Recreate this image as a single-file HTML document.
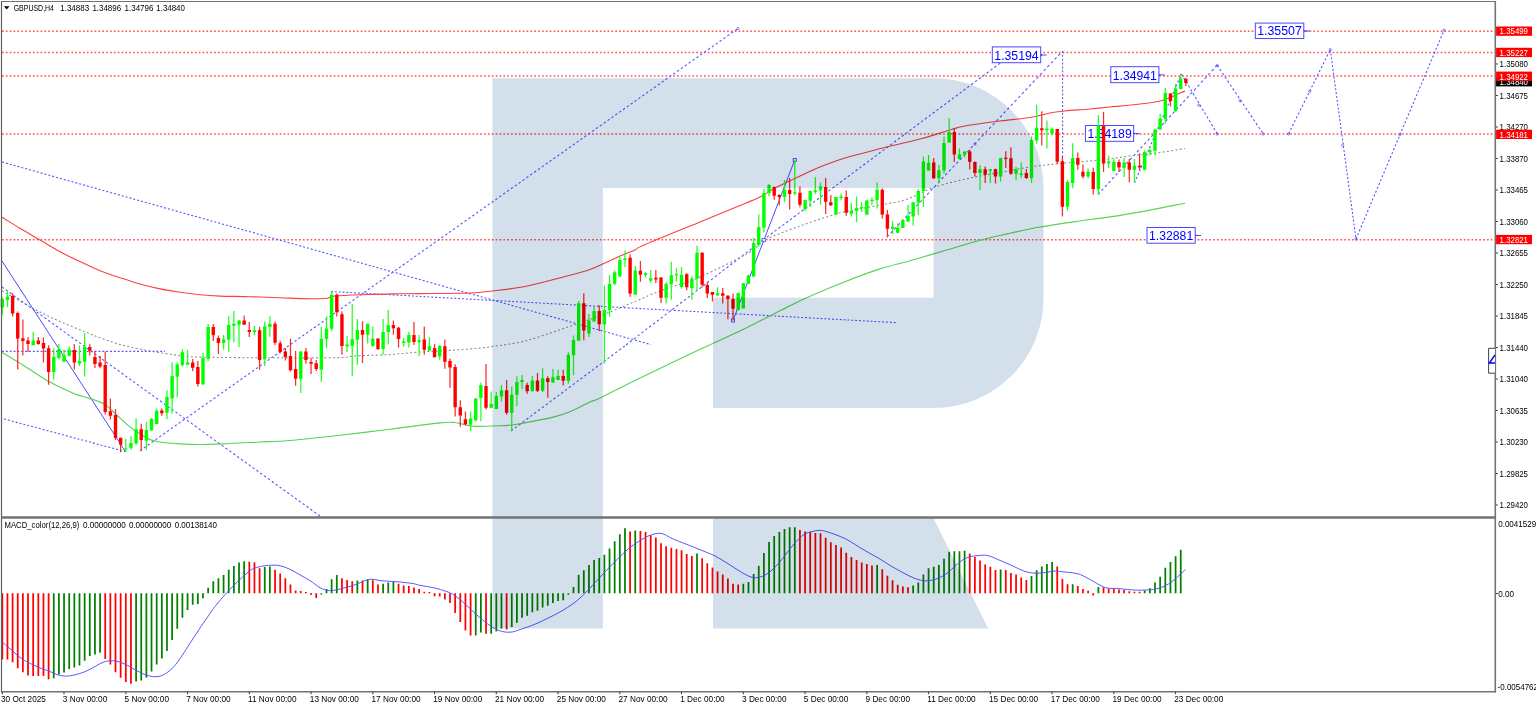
<!DOCTYPE html>
<html><head><meta charset="utf-8"><title>GBPUSD,H4</title>
<style>
html,body{margin:0;padding:0;background:#fff;overflow:hidden}
body{width:1536px;height:707px;position:relative;font-family:"Liberation Sans","DejaVu Sans",sans-serif}
svg{position:absolute;left:0;top:0;display:block}
.ax{font-size:8.7px;fill:#000}
.tag{font-size:8.7px;fill:#fff}
.lb{font-size:13.2px;fill:#0000ff}
.wm{mix-blend-mode:multiply}
</style></head><body>
<svg width="1536" height="707" viewBox="0 0 1536 707" font-family="Liberation Sans, DejaVu Sans, sans-serif">
<rect x="0" y="0" width="1536" height="707" fill="#ffffff"/>
<g stroke="#ff5252" stroke-width="1.55" stroke-dasharray="1.7 2.157">
<line x1="2.0" y1="31.2" x2="1495.0" y2="31.2" />
<line x1="2.0" y1="52.4" x2="1495.0" y2="52.4" />
<line x1="2.0" y1="76.0" x2="1495.0" y2="76.0" />
<line x1="2.0" y1="133.9" x2="1495.0" y2="133.9" />
<line x1="2.0" y1="239.8" x2="1495.0" y2="239.8" />
</g>
<g stroke="#5454ff" stroke-width="1.08" fill="none">
<line x1="2.0" y1="162.0" x2="651.0" y2="344.6" stroke-dasharray="2.03 1.98"/>
<line x1="2.0" y1="287.0" x2="320.0" y2="516.0" stroke-dasharray="2.40 2.35"/>
<line x1="4.0" y1="419.0" x2="125.0" y2="451.5" stroke-dasharray="2.02 1.98"/>
<line x1="140.0" y1="450.7" x2="738.0" y2="28.5" stroke-dasharray="2.39 2.34"/>
<line x1="331.0" y1="291.5" x2="897.0" y2="322.7" stroke-dasharray="1.95 1.91"/>
<line x1="511.0" y1="431.0" x2="626.0" y2="345.0" stroke-dasharray="2.43 2.39"/>
<line x1="626.0" y1="345.0" x2="763.0" y2="240.0" stroke-dasharray="2.46 2.41"/>
<line x1="763.0" y1="240.0" x2="1003.0" y2="61.0" stroke-dasharray="2.43 2.38"/>
<line x1="887.0" y1="237.0" x2="1062.6" y2="51.0" stroke-dasharray="2.68 2.63"/>
<line x1="1062.6" y1="51.0" x2="1062.6" y2="215.0" stroke-dasharray="1.95 1.91"/>
<line x1="1097.9" y1="194.6" x2="1217.2" y2="65.2" stroke-dasharray="2.65 2.60"/>
<line x1="1134.5" y1="182.7" x2="1181.4" y2="74.0" stroke-dasharray="2.12 2.08"/>
<line x1="1217.2" y1="65.2" x2="1263.1" y2="133.7" stroke-dasharray="2.35 2.30"/>
<line x1="1181.4" y1="74.0" x2="1217.2" y2="133.7" stroke-dasharray="2.27 2.23"/>
<line x1="1288.6" y1="133.7" x2="1330.3" y2="49.6" stroke-dasharray="2.18 2.13"/>
<line x1="1330.3" y1="49.6" x2="1356.0" y2="239.0" stroke-dasharray="1.97 1.93"/>
<line x1="1356.0" y1="239.0" x2="1444.1" y2="30.1" stroke-dasharray="2.12 2.07"/>
</g>
<line x1="2.0" y1="351.4" x2="165.0" y2="351.4" stroke="#5454ff" stroke-width="1.35" stroke-dasharray="1.9 1.96"/>
<g stroke="#5454ff" stroke-width="0.7" fill="none">
<circle cx="1198.8" cy="105.2" r="1.15"/><circle cx="1240.0" cy="100.8" r="1.15"/><circle cx="1309.8" cy="91.3" r="1.15"/><circle cx="1342.6" cy="145.4" r="1.15"/><circle cx="1400.0" cy="134.4" r="1.15"/><circle cx="1217.2" cy="134.0" r="1.15"/><circle cx="1263.1" cy="134.0" r="1.15"/><circle cx="1288.6" cy="134.0" r="1.15"/><circle cx="1217.2" cy="65.5" r="1.15"/><circle cx="1330.3" cy="49.6" r="1.15"/><circle cx="1356.0" cy="239.0" r="1.15"/><circle cx="1444.1" cy="30.1" r="1.15"/><circle cx="738.0" cy="28.5" r="1.15"/><circle cx="975.0" cy="144.0" r="1.15"/>
</g>
<g stroke="#4040ff" stroke-width="0.95" fill="none">
<line x1="2.0" y1="261.0" x2="125.7" y2="452.0" />
<line x1="733.0" y1="320.4" x2="794.7" y2="160.0" />
<rect x="731.4" y="318.8" width="3.2" height="3.2" fill="#fff" stroke-width="0.8"/><rect x="762.1" y="238.6" width="3.2" height="3.2" fill="#fff" stroke-width="0.8"/><rect x="793.1" y="158.4" width="3.2" height="3.2" fill="#fff" stroke-width="0.8"/>
</g>
<rect x="992.3" y="46.9" width="48.4" height="15.8" fill="#fff" stroke="#4040ff" stroke-width="0.95"/><text class="lb" x="1016.5" y="59.5" text-anchor="middle" textLength="44.4" lengthAdjust="spacingAndGlyphs">1.35194</text><path d="M1040.7 55.0h6" stroke="#4040ff" stroke-width="0.95"/><path d="M1040.7 53.8l2 1.2l-2 1.2z" fill="#4040ff"/>
<rect x="1110.8" y="66.7" width="48.1" height="16.0" fill="#fff" stroke="#4040ff" stroke-width="0.95"/><text class="lb" x="1134.8" y="79.5" text-anchor="middle" textLength="44.1" lengthAdjust="spacingAndGlyphs">1.34941</text><path d="M1158.9 74.9h6" stroke="#4040ff" stroke-width="0.95"/><path d="M1158.9 73.7l2 1.2l-2 1.2z" fill="#4040ff"/>
<rect x="1085.4" y="125.5" width="48.3" height="15.8" fill="#fff" stroke="#4040ff" stroke-width="0.95"/><text class="lb" x="1109.6" y="138.1" text-anchor="middle" textLength="44.3" lengthAdjust="spacingAndGlyphs">1.34189</text><path d="M1133.7 133.6h6" stroke="#4040ff" stroke-width="0.95"/><path d="M1133.7 132.4l2 1.2l-2 1.2z" fill="#4040ff"/>
<rect x="1255.3" y="23.1" width="48.5" height="15.4" fill="#fff" stroke="#4040ff" stroke-width="0.95"/><text class="lb" x="1279.5" y="35.3" text-anchor="middle" textLength="44.5" lengthAdjust="spacingAndGlyphs">1.35507</text><path d="M1303.8 31.0h6" stroke="#4040ff" stroke-width="0.95"/><path d="M1303.8 29.8l2 1.2l-2 1.2z" fill="#4040ff"/>
<rect x="1147.0" y="227.5" width="48.2" height="15.7" fill="#fff" stroke="#4040ff" stroke-width="0.95"/><text class="lb" x="1171.1" y="240.0" text-anchor="middle" textLength="44.2" lengthAdjust="spacingAndGlyphs">1.32881</text><path d="M1195.2 235.5h6" stroke="#4040ff" stroke-width="0.95"/><path d="M1195.2 234.3l2 1.2l-2 1.2z" fill="#4040ff"/>
<path d="M2.0 217.2C5.0 219.0 13.7 224.5 20.0 228.3C26.3 232.1 33.3 236.1 40.0 240.0C46.7 243.9 53.3 248.2 60.0 251.8C66.7 255.4 73.3 258.4 80.0 261.5C86.7 264.6 93.3 268.0 100.0 270.7C106.7 273.4 113.3 275.5 120.0 277.7C126.7 279.9 133.3 282.1 140.0 284.0C146.7 285.9 153.3 287.5 160.0 288.9C166.7 290.3 173.3 291.2 180.0 292.2C186.7 293.2 193.3 294.0 200.0 294.7C206.7 295.4 211.7 295.8 220.0 296.1C228.3 296.4 240.0 296.4 250.0 296.7C260.0 297.0 271.7 297.4 280.0 297.7C288.3 298.0 292.5 298.5 300.0 298.6C307.5 298.7 319.2 298.9 325.0 298.5C330.8 298.1 327.5 296.7 335.0 296.0C342.5 295.3 359.2 294.9 370.0 294.5C380.8 294.1 390.0 294.0 400.0 293.8C410.0 293.6 418.3 293.6 430.0 293.5C441.7 293.4 459.7 293.4 470.0 293.0C480.3 292.6 482.8 292.1 492.0 291.0C501.2 289.9 512.8 288.9 525.0 286.5C537.2 284.1 554.2 279.3 565.0 276.5C575.8 273.7 583.3 271.8 590.0 269.5C596.7 267.2 600.0 265.2 605.0 263.0C610.0 260.8 615.0 258.2 620.0 256.0C625.0 253.8 631.2 251.8 635.0 250.0C638.8 248.2 632.2 250.2 643.0 245.5C653.8 240.8 684.7 228.3 700.0 222.0C715.3 215.7 725.0 211.7 735.0 207.5C745.0 203.3 753.3 200.2 760.0 197.0C766.7 193.8 768.3 191.5 775.0 188.0C781.7 184.5 792.5 179.5 800.0 176.0C807.5 172.5 812.5 170.0 820.0 167.0C827.5 164.0 835.8 160.8 845.0 158.0C854.2 155.2 862.5 153.2 875.0 150.0C887.5 146.8 907.5 142.3 920.0 139.0C932.5 135.7 942.5 132.2 950.0 130.0C957.5 127.8 956.7 127.5 965.0 126.0C973.3 124.5 989.2 122.4 1000.0 121.0C1010.8 119.6 1021.7 118.8 1030.0 117.5C1038.3 116.2 1044.2 114.1 1050.0 113.0C1055.8 111.9 1058.3 111.7 1065.0 111.0C1071.7 110.3 1082.5 109.7 1090.0 109.0C1097.5 108.3 1101.7 107.8 1110.0 107.0C1118.3 106.2 1131.7 105.0 1140.0 104.0C1148.3 103.0 1155.0 102.1 1160.0 101.0C1165.0 99.9 1166.7 98.8 1170.0 97.5C1173.3 96.2 1177.5 94.1 1180.0 93.0C1182.5 91.9 1184.2 91.3 1185.0 91.0" fill="none" stroke="#ff4040" stroke-width="1.12"/>
<path d="M2.0 352.4C4.5 353.9 12.3 358.4 17.0 361.3C21.7 364.2 24.9 366.4 30.0 369.6C35.1 372.9 42.5 377.9 47.5 380.8C52.5 383.7 55.2 384.9 60.0 387.2C64.8 389.5 71.0 392.5 76.0 394.4C81.0 396.3 85.2 396.9 90.0 398.6C94.8 400.3 100.0 401.2 105.0 404.5C110.0 407.8 115.8 414.4 120.0 418.1C124.2 421.8 126.7 424.3 130.0 426.9C133.3 429.5 136.7 431.7 140.0 433.8C143.3 435.9 146.7 438.2 150.0 439.6C153.3 441.0 155.8 441.4 160.0 442.0C164.2 442.6 168.3 443.1 175.0 443.5C181.7 443.9 190.8 444.5 200.0 444.5C209.2 444.5 220.0 443.9 230.0 443.5C240.0 443.1 250.0 442.5 260.0 442.0C270.0 441.5 276.7 441.6 290.0 440.5C303.3 439.4 323.3 437.1 340.0 435.2C356.7 433.3 373.3 431.4 390.0 429.3C406.7 427.2 429.2 424.0 440.0 422.9C450.8 421.8 450.8 422.2 455.0 422.5C459.2 422.8 461.7 424.2 465.0 424.8C468.3 425.4 469.2 426.2 475.0 426.4C480.8 426.6 493.3 426.1 500.0 425.8C506.7 425.5 509.2 425.3 515.0 424.5C520.8 423.7 528.3 422.2 535.0 420.9C541.7 419.6 549.2 418.1 555.0 416.6C560.8 415.1 564.2 414.2 570.0 411.8C575.8 409.4 585.0 404.3 590.0 402.0C595.0 399.7 592.5 401.6 600.0 398.0C607.5 394.4 620.0 387.8 635.0 380.5C650.0 373.2 672.2 362.4 690.0 354.0C707.8 345.6 727.0 337.2 742.0 330.0C757.0 322.8 768.7 316.3 780.0 310.7C791.3 305.1 799.2 301.0 810.0 296.2C820.8 291.4 833.3 286.2 845.0 281.7C856.7 277.1 869.2 272.4 880.0 268.9C890.8 265.4 899.2 263.8 910.0 260.7C920.8 257.6 933.3 253.9 945.0 250.5C956.7 247.1 969.2 243.1 980.0 240.2C990.8 237.3 1000.0 235.5 1010.0 233.3C1020.0 231.1 1029.2 228.9 1040.0 227.0C1050.8 225.1 1063.3 223.3 1075.0 221.6C1086.7 219.9 1097.5 218.8 1110.0 216.9C1122.5 215.0 1137.5 212.4 1150.0 210.1C1162.5 207.8 1179.2 204.3 1185.0 203.2" fill="none" stroke="#58d458" stroke-width="1.15"/>
<path d="M2.0 290.8C7.5 293.9 25.3 304.3 35.0 309.4C44.7 314.5 51.7 317.8 60.0 321.5C68.3 325.2 77.5 328.8 85.0 331.8C92.5 334.8 97.5 337.0 105.0 339.5C112.5 342.0 118.3 344.4 130.0 347.0C141.7 349.6 161.7 353.3 175.0 355.0C188.3 356.7 184.2 356.8 210.0 357.3C235.8 357.8 305.8 358.0 330.0 357.8C354.2 357.6 345.0 356.6 355.0 356.0C365.0 355.4 379.2 355.2 390.0 354.5C400.8 353.8 411.7 352.6 420.0 352.0C428.3 351.4 431.7 351.5 440.0 351.0C448.3 350.5 461.3 349.8 470.0 349.0C478.7 348.2 482.8 347.8 492.0 346.5C501.2 345.2 512.8 344.1 525.0 341.0C537.2 337.9 550.8 332.8 565.0 328.0C579.2 323.2 594.2 318.2 610.0 312.0C625.8 305.8 645.0 296.8 660.0 291.0C675.0 285.2 685.0 283.5 700.0 277.0C715.0 270.5 739.2 258.2 750.0 252.0C760.8 245.8 756.7 244.3 765.0 240.0C773.3 235.7 787.5 230.5 800.0 226.0C812.5 221.5 826.7 216.5 840.0 213.0C853.3 209.5 869.2 207.2 880.0 205.0C890.8 202.8 895.8 203.0 905.0 200.0C914.2 197.0 923.3 190.8 935.0 187.0C946.7 183.2 964.2 179.4 975.0 177.0C985.8 174.6 990.8 174.2 1000.0 172.5C1009.2 170.8 1020.0 168.5 1030.0 167.0C1040.0 165.5 1048.3 164.7 1060.0 163.5C1071.7 162.3 1088.3 161.2 1100.0 160.0C1111.7 158.8 1120.0 157.2 1130.0 156.0C1140.0 154.8 1150.8 153.8 1160.0 152.5C1169.2 151.2 1180.8 149.2 1185.0 148.5" fill="none" stroke="#868686" stroke-width="1.05" stroke-dasharray="1.9 2.4"/>
<path d="M2.30 297.0V314.8M7.45 290.2V307.2M33.18 331.8V345.2M53.76 348.2V379.6M58.91 344.0V359.6M64.05 349.4V361.7M69.20 346.5V356.2M79.49 345.6V366.0M84.64 333.0V376.6M125.80 439.0V452.0M130.95 436.3V449.9M136.10 418.5V445.2M146.39 421.7V449.9M151.53 418.0V430.6M156.68 408.6V424.1M166.97 390.2V418.9M172.12 362.5V413.8M177.26 362.5V397.6M182.41 349.2V366.7M187.56 349.8V364.7M202.99 352.9V385.3M208.14 324.1V360.9M223.58 334.9V349.5M228.72 316.3V351.8M233.87 311.1V342.3M239.02 320.2V346.9M254.45 326.0V334.9M264.75 321.5V366.1M269.89 316.3V336.7M300.77 351.0V393.0M321.35 326.7V381.8M326.50 316.3V348.2M331.64 291.5V331.3M347.08 336.1V352.0M352.23 304.0V376.3M357.37 318.9V364.7M367.67 323.8V343.6M372.81 326.5V346.2M383.10 319.1V354.7M388.25 309.7V344.2M403.69 338.1V346.8M408.83 332.1V347.5M419.13 335.1V356.0M429.42 337.3V350.8M439.71 345.2V359.8M470.59 411.4V430.9M475.73 398.1V421.6M480.88 382.5V421.2M491.17 391.6V407.8M496.32 392.1V409.1M501.46 385.1V401.6M511.75 386.4V430.9M516.90 376.3V405.9M522.05 374.9V389.3M532.34 376.0V391.2M542.63 368.2V391.9M552.92 369.1V382.8M558.07 369.7V379.9M568.36 352.2V383.8M573.51 335.5V375.2M578.65 300.9V340.7M588.94 313.9V336.9M594.09 307.1V321.5M604.38 285.6V363.7M609.53 274.7V316.5M614.67 270.4V285.6M619.82 256.5V277.3M624.97 250.5V266.9M635.26 266.1V295.1M645.55 272.3V277.6M650.70 270.0V282.8M666.13 282.1V303.6M671.28 261.7V299.7M676.43 268.2V281.5M681.57 266.9V288.6M691.86 276.3V299.7M697.01 245.7V290.6M717.59 287.3V295.5M738.18 292.7V310.5M743.32 283.0V308.5M748.47 274.7V284.1M753.62 237.8V276.4M758.76 214.5V246.7M763.91 189.1V232.5M769.05 184.1V196.2M784.49 179.9V202.3M794.78 159.8V195.3M805.08 200.1V210.9M810.22 190.6V207.0M815.37 177.1V194.0M820.51 182.6V204.7M835.95 196.9V215.1M841.10 193.6V200.1M851.39 203.1V216.4M856.54 196.6V222.3M861.68 202.3V211.8M866.83 200.1V215.4M871.97 197.5V205.3M877.12 182.6V208.6M892.56 221.0V234.0M897.70 223.6V233.3M902.85 219.0V228.1M908.00 204.9V221.9M913.14 202.1V225.5M918.29 189.1V215.1M923.43 156.6V207.0M928.58 154.9V170.5M938.87 164.7V183.5M944.02 136.4V173.8M949.16 118.2V142.5M959.46 148.6V159.5M964.60 151.3V157.2M980.04 165.3V190.0M990.33 169.0V182.9M1000.62 157.8V181.6M1016.06 166.9V180.3M1021.21 162.4V178.3M1031.50 136.4V182.9M1036.65 104.8V143.8M1046.94 120.4V148.6M1052.08 127.6V135.6M1067.52 180.1V210.5M1072.67 143.3V188.3M1088.11 168.5V178.4M1098.40 115.0V195.1M1108.69 155.6V168.0M1113.84 158.7V171.1M1124.13 158.0V177.1M1134.42 158.9V182.1M1144.71 150.4V169.7M1149.86 148.3V155.4M1155.00 129.4V155.4M1160.15 113.8V129.4M1165.30 88.0V123.5M1175.59 83.8V111.8M1180.73 73.4V89.2" stroke="#22ff22" stroke-width="1.25" fill="none"/>
<path d="M12.59 293.2V316.5M17.74 311.4V369.4M22.88 319.5V355.4M28.03 336.9V352.0M38.32 337.0V344.8M43.47 337.5V362.6M48.61 345.2V384.7M74.34 344.0V369.4M89.78 344.3V355.4M94.93 350.7V368.0M100.07 355.7V368.3M105.22 351.5V414.4M110.37 398.6V419.6M115.51 409.1V440.0M120.66 437.7V452.3M141.24 423.8V451.0M161.83 408.4V415.7M192.70 358.9V371.0M197.85 360.9V386.6M213.29 324.1V341.0M218.43 335.4V354.0M244.16 315.6V324.7M249.31 322.1V337.1M259.60 326.7V369.7M275.04 321.5V344.9M280.18 341.0V353.4M285.33 347.9V360.5M290.48 338.8V371.6M295.62 351.0V385.7M305.91 347.9V363.8M311.06 357.9V374.0M316.21 359.9V371.0M336.79 293.5V316.6M341.94 311.2V354.7M362.52 321.3V363.1M377.96 338.4V350.0M393.40 320.4V334.7M398.54 326.9V347.5M413.98 322.1V344.9M424.27 326.4V354.7M434.56 343.9V357.3M444.86 339.4V368.8M450.00 358.6V387.7M455.15 364.3V416.4M460.29 400.3V426.8M465.44 411.4V425.5M486.02 363.9V409.5M506.61 379.9V414.7M527.19 382.8V393.8M537.48 373.0V392.1M547.78 376.3V397.7M563.21 369.7V385.6M583.80 293.2V340.3M599.24 305.2V331.3M630.11 254.4V296.8M640.40 260.9V281.7M655.84 270.0V283.0M660.99 276.9V302.9M686.72 273.0V290.3M702.16 252.2V287.3M707.30 282.8V298.1M712.45 291.9V301.6M722.74 288.0V303.6M727.89 295.1V319.2M733.03 293.8V320.5M774.20 186.5V199.7M779.35 194.3V205.3M789.64 178.0V209.6M799.93 186.5V207.3M825.66 178.0V214.1M830.81 194.9V206.0M846.24 190.4V215.8M882.27 188.4V218.4M887.41 209.9V237.2M933.73 158.0V179.0M954.31 128.6V162.1M969.75 149.7V169.5M974.89 161.4V176.4M985.19 166.6V182.9M995.48 168.6V183.5M1005.77 151.3V167.9M1010.92 147.3V174.7M1026.35 169.2V179.0M1041.79 111.3V145.5M1057.23 128.9V164.0M1062.38 156.8V216.6M1077.81 152.5V169.8M1082.96 164.6V178.4M1093.25 167.8V194.5M1103.54 111.8V171.9M1118.98 159.4V172.0M1129.27 158.9V182.3M1139.57 153.2V169.7M1170.44 93.1V106.4M1185.88 78.3V86.1" stroke="#ff2a2a" stroke-width="1.25" fill="none"/>
<path d="M0.60 299.1h3.4V307.6h-3.4zM5.75 296.5h3.4V300.0h-3.4zM31.48 340.5h3.4V345.2h-3.4zM52.06 357.0h3.4V372.0h-3.4zM57.21 349.0h3.4V358.0h-3.4zM62.35 355.0h3.4V361.7h-3.4zM67.50 349.4h3.4V355.8h-3.4zM77.79 361.0h3.4V363.4h-3.4zM82.94 346.9h3.4V361.7h-3.4zM124.10 448.4h3.4V449.6h-3.4zM129.25 443.1h3.4V447.8h-3.4zM134.40 429.3h3.4V443.3h-3.4zM144.69 430.0h3.4V440.8h-3.4zM149.83 419.1h3.4V430.6h-3.4zM154.98 410.7h3.4V424.1h-3.4zM165.27 397.1h3.4V412.8h-3.4zM170.42 376.1h3.4V398.4h-3.4zM175.56 364.4h3.4V376.7h-3.4zM180.71 352.2h3.4V364.9h-3.4zM185.86 362.5h3.4V364.7h-3.4zM201.29 358.0h3.4V384.2h-3.4zM206.44 327.0h3.4V358.7h-3.4zM221.88 339.3h3.4V343.0h-3.4zM227.02 325.1h3.4V339.7h-3.4zM232.17 323.8h3.4V325.7h-3.4zM237.32 320.6h3.4V324.7h-3.4zM252.75 330.2h3.4V331.9h-3.4zM263.05 326.4h3.4V359.2h-3.4zM268.19 323.8h3.4V327.0h-3.4zM299.07 351.4h3.4V378.8h-3.4zM319.65 338.7h3.4V369.7h-3.4zM324.80 328.4h3.4V339.1h-3.4zM329.94 294.8h3.4V328.7h-3.4zM345.38 344.4h3.4V346.3h-3.4zM350.53 339.2h3.4V345.8h-3.4zM355.67 330.0h3.4V339.7h-3.4zM365.97 323.8h3.4V334.8h-3.4zM371.11 338.7h3.4V346.2h-3.4zM381.40 332.1h3.4V349.0h-3.4zM386.55 325.1h3.4V332.1h-3.4zM401.99 341.6h3.4V342.9h-3.4zM407.13 334.9h3.4V342.6h-3.4zM417.43 340.3h3.4V341.9h-3.4zM427.72 346.2h3.4V350.8h-3.4zM438.01 345.9h3.4V356.6h-3.4zM468.89 418.6h3.4V424.7h-3.4zM474.03 398.4h3.4V420.3h-3.4zM479.18 385.1h3.4V398.1h-3.4zM489.47 403.9h3.4V407.8h-3.4zM494.62 396.0h3.4V409.1h-3.4zM499.76 390.3h3.4V396.4h-3.4zM510.05 394.7h3.4V412.7h-3.4zM515.20 382.1h3.4V394.7h-3.4zM520.35 379.9h3.4V382.1h-3.4zM530.64 380.4h3.4V391.2h-3.4zM540.93 378.2h3.4V390.8h-3.4zM551.22 377.3h3.4V382.5h-3.4zM556.37 376.0h3.4V379.9h-3.4zM566.66 354.8h3.4V380.8h-3.4zM571.81 340.0h3.4V355.2h-3.4zM576.95 303.3h3.4V340.7h-3.4zM587.24 320.6h3.4V333.5h-3.4zM592.39 311.0h3.4V321.5h-3.4zM602.68 310.0h3.4V324.6h-3.4zM607.83 284.1h3.4V310.0h-3.4zM612.97 272.3h3.4V283.8h-3.4zM618.12 260.0h3.4V276.3h-3.4zM623.27 258.4h3.4V260.0h-3.4zM633.56 270.4h3.4V294.5h-3.4zM643.85 273.3h3.4V274.9h-3.4zM649.00 278.2h3.4V280.8h-3.4zM664.43 284.1h3.4V297.7h-3.4zM669.58 275.2h3.4V284.3h-3.4zM674.73 274.3h3.4V275.6h-3.4zM679.87 274.7h3.4V286.9h-3.4zM690.16 278.6h3.4V288.0h-3.4zM695.31 252.8h3.4V278.6h-3.4zM715.89 293.2h3.4V295.5h-3.4zM736.48 293.1h3.4V310.0h-3.4zM741.62 283.3h3.4V308.5h-3.4zM746.77 275.5h3.4V284.1h-3.4zM751.92 243.0h3.4V276.4h-3.4zM757.06 227.0h3.4V245.1h-3.4zM762.21 193.0h3.4V227.4h-3.4zM767.35 184.9h3.4V193.0h-3.4zM782.79 190.1h3.4V197.1h-3.4zM793.08 192.3h3.4V193.6h-3.4zM803.38 200.1h3.4V209.2h-3.4zM808.52 191.0h3.4V200.8h-3.4zM813.67 190.4h3.4V191.9h-3.4zM818.81 186.5h3.4V190.6h-3.4zM834.25 197.1h3.4V214.5h-3.4zM839.40 196.6h3.4V197.9h-3.4zM849.69 210.9h3.4V213.8h-3.4zM854.84 207.9h3.4V210.9h-3.4zM859.98 207.0h3.4V208.3h-3.4zM865.13 200.5h3.4V214.5h-3.4zM870.27 199.7h3.4V201.0h-3.4zM875.42 189.7h3.4V200.1h-3.4zM890.86 226.6h3.4V228.8h-3.4zM896.00 227.9h3.4V232.7h-3.4zM901.15 220.3h3.4V227.9h-3.4zM906.30 216.1h3.4V221.4h-3.4zM911.44 202.3h3.4V216.4h-3.4zM916.59 191.0h3.4V202.7h-3.4zM921.73 161.4h3.4V191.0h-3.4zM926.88 162.7h3.4V170.5h-3.4zM937.17 170.3h3.4V178.3h-3.4zM942.32 142.9h3.4V170.5h-3.4zM947.46 132.1h3.4V142.5h-3.4zM957.76 154.2h3.4V159.1h-3.4zM962.90 151.6h3.4V154.6h-3.4zM978.34 169.2h3.4V172.9h-3.4zM988.63 169.2h3.4V170.8h-3.4zM998.92 158.2h3.4V176.4h-3.4zM1014.36 169.5h3.4V173.8h-3.4zM1019.51 173.4h3.4V175.1h-3.4zM1029.80 139.9h3.4V178.3h-3.4zM1034.95 127.8h3.4V140.6h-3.4zM1045.24 128.6h3.4V130.2h-3.4zM1050.38 129.1h3.4V133.8h-3.4zM1065.82 182.1h3.4V206.8h-3.4zM1070.97 158.0h3.4V183.0h-3.4zM1086.41 171.7h3.4V176.5h-3.4zM1096.70 126.0h3.4V188.9h-3.4zM1106.99 161.6h3.4V163.2h-3.4zM1112.14 162.0h3.4V171.1h-3.4zM1122.43 162.6h3.4V167.8h-3.4zM1132.72 165.8h3.4V169.7h-3.4zM1143.01 152.0h3.4V169.7h-3.4zM1148.16 150.2h3.4V152.2h-3.4zM1153.30 129.4h3.4V150.7h-3.4zM1158.45 118.8h3.4V129.4h-3.4zM1163.60 93.1h3.4V119.1h-3.4zM1173.89 88.5h3.4V111.3h-3.4zM1179.03 78.7h3.4V88.9h-3.4z" fill="#00ff00"/>
<path d="M10.89 296.1h3.4V313.5h-3.4zM16.04 313.1h3.4V338.5h-3.4zM21.18 338.2h3.4V341.0h-3.4zM26.33 340.5h3.4V343.9h-3.4zM36.62 340.5h3.4V344.0h-3.4zM41.77 343.0h3.4V348.6h-3.4zM46.91 348.2h3.4V372.0h-3.4zM72.64 349.9h3.4V362.6h-3.4zM88.08 346.9h3.4V350.7h-3.4zM93.23 357.0h3.4V363.9h-3.4zM98.37 362.5h3.4V366.6h-3.4zM103.52 365.1h3.4V411.9h-3.4zM108.67 411.2h3.4V415.7h-3.4zM113.81 415.0h3.4V437.9h-3.4zM118.96 437.7h3.4V444.7h-3.4zM139.54 429.3h3.4V440.0h-3.4zM160.13 410.5h3.4V413.3h-3.4zM191.00 362.5h3.4V367.7h-3.4zM196.15 367.1h3.4V384.0h-3.4zM211.59 327.0h3.4V335.2h-3.4zM216.73 338.0h3.4V343.0h-3.4zM242.46 320.6h3.4V324.7h-3.4zM247.61 330.0h3.4V331.9h-3.4zM257.90 330.2h3.4V359.9h-3.4zM273.34 323.8h3.4V342.7h-3.4zM278.48 343.2h3.4V352.1h-3.4zM283.63 351.4h3.4V357.0h-3.4zM288.78 356.0h3.4V370.3h-3.4zM293.92 369.0h3.4V378.8h-3.4zM304.21 351.4h3.4V359.9h-3.4zM309.36 362.1h3.4V363.8h-3.4zM314.51 363.2h3.4V369.0h-3.4zM335.09 294.8h3.4V312.2h-3.4zM340.24 314.2h3.4V346.0h-3.4zM360.82 330.0h3.4V334.8h-3.4zM376.26 338.6h3.4V349.0h-3.4zM391.70 325.1h3.4V328.2h-3.4zM396.84 327.7h3.4V339.0h-3.4zM412.28 334.9h3.4V342.0h-3.4zM422.57 339.4h3.4V349.8h-3.4zM432.86 347.9h3.4V357.3h-3.4zM443.16 346.2h3.4V361.8h-3.4zM448.30 361.0h3.4V367.5h-3.4zM453.45 367.1h3.4V407.2h-3.4zM458.59 407.2h3.4V415.6h-3.4zM463.74 419.2h3.4V424.2h-3.4zM484.32 386.0h3.4V407.8h-3.4zM504.91 390.3h3.4V412.7h-3.4zM525.49 385.1h3.4V391.2h-3.4zM535.78 380.4h3.4V390.8h-3.4zM546.08 378.2h3.4V382.1h-3.4zM561.51 376.0h3.4V380.8h-3.4zM582.10 303.3h3.4V330.5h-3.4zM597.54 311.0h3.4V324.2h-3.4zM628.41 257.8h3.4V293.4h-3.4zM638.70 270.8h3.4V274.7h-3.4zM654.14 277.8h3.4V279.4h-3.4zM659.29 277.6h3.4V297.7h-3.4zM685.02 274.3h3.4V287.3h-3.4zM700.46 252.8h3.4V284.7h-3.4zM705.60 285.1h3.4V293.4h-3.4zM710.75 292.1h3.4V294.7h-3.4zM721.04 293.2h3.4V295.8h-3.4zM726.19 295.8h3.4V299.0h-3.4zM731.33 299.0h3.4V308.8h-3.4zM772.50 187.1h3.4V195.8h-3.4zM777.65 194.9h3.4V197.1h-3.4zM787.94 190.1h3.4V194.0h-3.4zM798.23 192.7h3.4V204.7h-3.4zM823.96 187.1h3.4V201.8h-3.4zM829.11 202.3h3.4V205.3h-3.4zM844.54 197.1h3.4V212.8h-3.4zM880.57 189.7h3.4V214.5h-3.4zM885.71 214.5h3.4V228.8h-3.4zM932.03 162.4h3.4V178.2h-3.4zM952.61 132.1h3.4V154.6h-3.4zM968.05 151.6h3.4V161.7h-3.4zM973.19 162.1h3.4V172.9h-3.4zM983.49 169.2h3.4V174.7h-3.4zM993.78 169.2h3.4V176.4h-3.4zM1004.07 157.8h3.4V159.1h-3.4zM1009.22 158.2h3.4V173.8h-3.4zM1024.65 173.1h3.4V178.1h-3.4zM1040.09 128.2h3.4V130.2h-3.4zM1055.53 129.1h3.4V161.7h-3.4zM1060.68 161.3h3.4V206.8h-3.4zM1076.11 158.0h3.4V164.8h-3.4zM1081.26 171.7h3.4V176.5h-3.4zM1091.55 172.0h3.4V188.9h-3.4zM1101.84 126.0h3.4V163.5h-3.4zM1117.28 162.1h3.4V167.5h-3.4zM1127.57 162.6h3.4V169.7h-3.4zM1137.87 165.8h3.4V167.4h-3.4zM1168.74 93.6h3.4V100.9h-3.4zM1184.18 78.7h3.4V83.0h-3.4z" fill="#ff0000"/>
<path d="M53.76 593.3V678.2M58.91 593.3V674.6M64.05 593.3V672.6M69.20 593.3V668.9M74.34 593.3V667.5M79.49 593.3V665.5M84.64 593.3V660.8M89.78 593.3V655.9M94.93 593.3V654.5M100.07 593.3V652.8M136.10 593.3V681.6M141.24 593.3V680.6M146.39 593.3V677.4M151.53 593.3V671.5M156.68 593.3V664.4M161.83 593.3V658.4M166.97 593.3V650.9M172.12 593.3V640.1M177.26 593.3V628.7M182.41 593.3V617.7M187.56 593.3V609.9M192.70 593.3V604.7M197.85 593.3V603.9M202.99 593.3V598.3M208.14 593.3V587.7M213.29 593.3V581.3M218.43 593.3V578.2M223.58 593.3V574.9M228.72 593.3V569.7M233.87 593.3V566.0M239.02 593.3V562.6M244.16 593.3V561.2M264.75 593.3V567.1M269.89 593.3V566.4M321.35 593.3V594.5M326.50 593.3V589.1M331.64 593.3V579.2M336.79 593.3V574.9M357.37 593.3V580.6M367.67 593.3V579.2M383.10 593.3V583.8M388.25 593.3V582.4M393.40 593.3V582.0M475.73 593.3V635.5M480.88 593.3V632.4M491.17 593.3V633.8M496.32 593.3V631.6M501.46 593.3V628.7M511.75 593.3V627.0M516.90 593.3V622.8M522.05 593.3V617.8M527.19 593.3V615.7M532.34 593.3V612.2M537.48 593.3V610.8M542.63 593.3V607.5M547.78 593.3V605.8M552.92 593.3V603.0M558.07 593.3V600.9M563.21 593.3V600.2M568.36 593.3V594.8M573.51 593.3V587.1M578.65 593.3V574.7M583.80 593.3V570.2M588.94 593.3V565.1M594.09 593.3V559.9M599.24 593.3V558.0M604.38 593.3V554.8M609.53 593.3V548.4M614.67 593.3V541.3M619.82 593.3V534.3M624.97 593.3V528.2M635.26 593.3V530.4M697.01 593.3V553.4M743.32 593.3V583.8M748.47 593.3V581.9M753.62 593.3V573.9M758.76 593.3V565.8M763.91 593.3V553.1M769.05 593.3V542.0M774.20 593.3V536.1M779.35 593.3V532.1M784.49 593.3V529.0M789.64 593.3V527.2M794.78 593.3V527.2M877.12 593.3V565.0M913.14 593.3V585.6M918.29 593.3V582.4M923.43 593.3V574.6M928.58 593.3V568.2M933.73 593.3V566.8M938.87 593.3V565.0M944.02 593.3V558.7M949.16 593.3V551.7M954.31 593.3V551.2M959.46 593.3V551.2M964.60 593.3V550.8M1000.62 593.3V569.6M1031.50 593.3V576.0M1036.65 593.3V570.3M1041.79 593.3V566.4M1046.94 593.3V564.0M1052.08 593.3V562.1M1072.67 593.3V584.2M1098.40 593.3V587.0M1144.71 593.3V590.4M1149.86 593.3V588.3M1155.00 593.3V582.4M1160.15 593.3V576.7M1165.30 593.3V567.8M1170.44 593.3V562.1M1175.59 593.3V556.2M1180.73 593.3V549.8" stroke="#008000" stroke-width="1.75" fill="none"/>
<path d="M2.30 593.3V659.4M7.45 593.3V659.4M12.59 593.3V662.3M17.74 593.3V668.3M22.88 593.3V672.2M28.03 593.3V675.4M33.18 593.3V676.0M38.32 593.3V676.0M43.47 593.3V676.0M48.61 593.3V679.2M105.22 593.3V659.1M110.37 593.3V664.4M115.51 593.3V672.2M120.66 593.3V677.8M125.80 593.3V682.1M130.95 593.3V683.8M249.31 593.3V561.8M254.45 593.3V562.2M259.60 593.3V568.3M275.04 593.3V569.7M280.18 593.3V573.5M285.33 593.3V578.2M290.48 593.3V584.4M295.62 593.3V590.5M300.77 593.3V590.9M305.91 593.3V592.1M311.06 593.3V595.1M316.21 593.3V598.0M341.94 593.3V578.2M347.08 593.3V579.9M352.23 593.3V581.3M362.52 593.3V580.6M372.81 593.3V580.2M377.96 593.3V584.4M398.54 593.3V583.8M403.69 593.3V585.5M408.83 593.3V586.0M413.98 593.3V587.4M419.13 593.3V589.1M424.27 593.3V591.7M429.42 593.3V592.1M434.56 593.3V596.2M439.71 593.3V596.6M444.86 593.3V599.5M450.00 593.3V603.0M455.15 593.3V612.9M460.29 593.3V622.1M465.44 593.3V630.6M470.59 593.3V635.5M486.02 593.3V633.8M506.61 593.3V629.6M630.11 593.3V531.4M640.40 593.3V531.0M645.55 593.3V532.1M650.70 593.3V535.3M655.84 593.3V537.5M660.99 593.3V543.2M666.13 593.3V546.3M671.28 593.3V547.7M676.43 593.3V549.1M681.57 593.3V550.2M686.72 593.3V554.1M691.86 593.3V555.9M702.16 593.3V558.3M707.30 593.3V563.3M712.45 593.3V567.5M717.59 593.3V571.5M722.74 593.3V574.6M727.89 593.3V578.5M733.03 593.3V583.8M738.18 593.3V584.5M799.93 593.3V530.0M805.08 593.3V531.4M810.22 593.3V532.1M815.37 593.3V532.9M820.51 593.3V533.3M825.66 593.3V537.8M830.81 593.3V542.3M835.95 593.3V544.9M841.10 593.3V547.4M846.24 593.3V552.7M851.39 593.3V556.9M856.54 593.3V560.1M861.68 593.3V562.6M866.83 593.3V564.0M871.97 593.3V565.4M882.27 593.3V569.2M887.41 593.3V575.7M892.56 593.3V580.2M897.70 593.3V584.8M902.85 593.3V586.6M908.00 593.3V587.3M969.75 593.3V553.4M974.89 593.3V556.9M980.04 593.3V560.4M985.19 593.3V564.4M990.33 593.3V566.8M995.48 593.3V570.1M1005.77 593.3V570.1M1010.92 593.3V572.9M1016.06 593.3V574.6M1021.21 593.3V577.4M1026.35 593.3V580.0M1057.23 593.3V566.4M1062.38 593.3V579.1M1067.52 593.3V584.2M1077.81 593.3V585.9M1082.96 593.3V589.0M1088.11 593.3V590.8M1093.25 593.3V595.5M1103.54 593.3V587.3M1108.69 593.3V588.4M1113.84 593.3V588.7M1118.98 593.3V589.4M1124.13 593.3V590.1M1129.27 593.3V591.3M1134.42 593.3V591.8M1139.57 593.3V591.8" stroke="#ff0000" stroke-width="1.75" fill="none"/>
<path d="M2.0 641.7C3.3 642.9 7.0 646.2 10.0 648.8C13.0 651.4 17.0 655.0 20.0 657.3C23.0 659.5 24.7 660.5 28.0 662.3C31.3 664.1 36.3 666.4 40.0 667.9C43.7 669.4 47.2 670.4 50.0 671.5C52.8 672.6 54.7 673.9 57.0 674.6C59.3 675.4 61.5 675.9 64.0 676.0C66.5 676.1 68.5 676.2 72.0 675.5C75.5 674.8 81.2 673.2 85.0 671.7C88.8 670.2 92.0 668.1 95.0 666.5C98.0 664.9 100.5 663.2 103.0 662.3C105.5 661.3 107.5 660.9 110.0 660.8C112.5 660.7 115.2 660.8 118.0 661.5C120.8 662.2 123.8 663.6 127.0 665.1C130.2 666.6 133.8 669.1 137.0 670.7C140.2 672.4 143.0 674.0 146.0 675.0C149.0 676.0 152.2 676.7 155.0 676.7C157.8 676.7 160.2 676.4 163.0 675.0C165.8 673.6 169.2 671.3 172.0 668.6C174.8 665.9 177.0 662.9 180.0 658.7C183.0 654.5 186.7 648.3 190.0 643.2C193.3 638.1 196.7 633.0 200.0 628.0C203.3 623.0 207.2 617.5 210.0 613.5C212.8 609.5 214.5 607.1 217.0 604.0C219.5 600.9 222.0 598.0 225.0 594.7C228.0 591.4 231.7 587.4 235.0 584.1C238.3 580.8 242.2 577.4 245.0 574.9C247.8 572.4 249.8 570.6 252.0 569.3C254.2 568.0 255.8 567.7 258.0 567.1C260.2 566.5 262.7 566.0 265.0 565.7C267.3 565.4 269.5 565.2 272.0 565.2C274.5 565.2 277.0 565.0 280.0 565.7C283.0 566.4 286.7 567.8 290.0 569.3C293.3 570.8 296.7 573.0 300.0 574.9C303.3 576.8 306.7 578.5 310.0 580.6C313.3 582.7 317.0 586.1 320.0 587.7C323.0 589.4 325.5 590.1 328.0 590.5C330.5 590.9 332.2 590.6 335.0 590.1C337.8 589.6 341.7 588.6 345.0 587.7C348.3 586.8 351.7 586.0 355.0 584.8C358.3 583.6 362.2 581.5 365.0 580.6C367.8 579.7 369.5 579.2 372.0 579.2C374.5 579.2 377.0 580.2 380.0 580.6C383.0 581.0 386.7 581.1 390.0 581.3C393.3 581.5 396.3 581.6 400.0 582.0C403.7 582.4 408.7 582.9 412.0 583.4C415.3 583.9 416.2 584.5 420.0 585.3C423.8 586.1 430.8 587.1 435.0 588.1C439.2 589.1 442.2 590.0 445.0 591.0C447.8 592.0 449.5 592.4 452.0 593.8C454.5 595.2 457.0 597.0 460.0 599.5C463.0 602.0 466.7 605.6 470.0 608.6C473.3 611.6 476.7 615.0 480.0 617.8C483.3 620.6 487.0 623.5 490.0 625.6C493.0 627.7 495.5 629.0 498.0 630.1C500.5 631.2 502.7 631.7 505.0 632.0C507.3 632.3 509.5 632.4 512.0 632.0C514.5 631.6 516.2 630.9 520.0 629.6C523.8 628.3 530.0 626.3 535.0 624.2C540.0 622.1 545.5 619.3 550.0 617.1C554.5 614.9 558.3 612.9 562.0 610.8C565.7 608.7 569.0 606.5 572.0 604.4C575.0 602.3 577.0 600.7 580.0 598.0C583.0 595.3 586.7 591.6 590.0 588.1C593.3 584.6 596.7 580.9 600.0 577.3C603.3 573.7 606.7 570.0 610.0 566.6C613.3 563.2 616.7 559.8 620.0 556.6C623.3 553.4 626.7 550.1 630.0 547.4C633.3 544.7 637.0 542.5 640.0 540.6C643.0 538.7 645.5 537.2 648.0 536.1C650.5 535.0 653.0 534.3 655.0 533.8C657.0 533.3 658.3 533.1 660.0 533.3C661.7 533.4 663.0 533.8 665.0 534.7C667.0 535.6 668.7 537.0 672.0 538.5C675.3 540.0 681.2 542.2 685.0 543.7C688.8 545.2 691.7 546.4 695.0 547.7C698.3 549.0 701.7 550.3 705.0 551.7C708.3 553.1 711.7 554.2 715.0 555.9C718.3 557.6 721.7 559.8 725.0 561.8C728.3 563.8 731.7 566.1 735.0 568.2C738.3 570.3 742.2 572.8 745.0 574.3C747.8 575.8 750.0 576.8 752.0 577.4C754.0 578.0 755.2 577.9 757.0 577.7C758.8 577.5 760.8 577.0 763.0 576.0C765.2 575.0 767.5 573.7 770.0 571.7C772.5 569.7 775.5 566.7 778.0 564.0C780.5 561.3 782.7 558.5 785.0 555.5C787.3 552.5 789.5 549.2 792.0 546.3C794.5 543.3 797.7 540.0 800.0 537.8C802.3 535.6 804.0 534.3 806.0 533.3C808.0 532.3 809.7 532.1 812.0 531.6C814.3 531.1 817.3 530.3 820.0 530.4C822.7 530.5 824.7 531.1 828.0 532.1C831.3 533.1 836.3 534.9 840.0 536.4C843.7 537.9 846.7 539.4 850.0 541.3C853.3 543.2 856.7 545.7 860.0 547.7C863.3 549.7 866.7 551.5 870.0 553.4C873.3 555.3 876.7 557.0 880.0 559.0C883.3 561.0 886.7 563.4 890.0 565.4C893.3 567.4 896.7 569.2 900.0 571.0C903.3 572.8 907.0 574.9 910.0 576.3C913.0 577.7 915.5 578.7 918.0 579.5C920.5 580.3 922.7 580.8 925.0 580.9C927.3 581.0 929.5 580.8 932.0 580.2C934.5 579.6 937.3 578.7 940.0 577.4C942.7 576.1 945.5 574.4 948.0 572.5C950.5 570.6 952.7 568.1 955.0 566.1C957.3 564.1 959.8 561.9 962.0 560.4C964.2 558.9 965.8 558.0 968.0 557.3C970.2 556.5 972.5 556.2 975.0 555.9C977.5 555.5 980.5 555.2 983.0 555.2C985.5 555.2 987.2 555.3 990.0 556.2C992.8 557.1 996.7 559.0 1000.0 560.4C1003.3 561.8 1006.7 563.2 1010.0 564.7C1013.3 566.2 1017.2 568.2 1020.0 569.4C1022.8 570.6 1024.5 571.4 1027.0 572.0C1029.5 572.6 1032.0 573.1 1035.0 573.2C1038.0 573.3 1041.7 572.9 1045.0 572.5C1048.3 572.1 1052.2 571.1 1055.0 571.0C1057.8 570.9 1058.7 571.3 1062.0 571.7C1065.3 572.1 1071.7 572.6 1075.0 573.2C1078.3 573.8 1079.5 574.2 1082.0 575.3C1084.5 576.3 1087.0 577.9 1090.0 579.5C1093.0 581.1 1097.2 583.8 1100.0 585.2C1102.8 586.6 1103.7 587.4 1107.0 588.0C1110.3 588.6 1115.3 588.4 1120.0 588.7C1124.7 589.1 1130.3 589.9 1135.0 590.1C1139.7 590.3 1144.3 590.1 1148.0 589.9C1151.7 589.7 1154.2 589.4 1157.0 588.7C1159.8 588.0 1162.5 587.1 1165.0 585.9C1167.5 584.7 1169.5 583.5 1172.0 581.6C1174.5 579.7 1177.8 576.6 1180.0 574.6C1182.2 572.6 1184.6 570.4 1185.5 569.6" fill="none" stroke="#5050ff" stroke-width="0.95"/>
</svg>
<svg class="wm" width="1536" height="707" viewBox="0 0 1536 707">
<path fill="#d4dfec" fill-rule="evenodd" d="M492.4 78.2H933.6A110 110 0 0 1 1043.6 188.2V298A110 110 0 0 1 933.6 408.1H713V297.8H602.8V628.4H492.4ZM602.8 188H933.6V297.8H602.8Z"/>
<path fill="#d4dfec" d="M713 518.6H933.6L988.2 628.4H713Z"/>
</svg>
<svg width="1536" height="707" viewBox="0 0 1536 707" font-family="Liberation Sans, DejaVu Sans, sans-serif">
<g stroke="#727272" fill="none">
<path d="M1.5 1V692.5" stroke-width="1.2" stroke="#606060"/><path d="M1 1.5H1496" stroke-width="1.2"/><path d="M1495.3 1V692.5" stroke-width="1.55"/><path d="M1 517.5H1496" stroke-width="2.4"/><path d="M1 691.8H1496" stroke-width="1.6"/>
</g>
<g class="ax">
<path d="M1496 64.0h1.8" stroke="#333" stroke-width="1"/><text x="1499.6" y="67.3" textLength="28.4" lengthAdjust="spacingAndGlyphs">1.35080</text>
<path d="M1496 95.5h1.8" stroke="#333" stroke-width="1"/><text x="1499.6" y="98.8" textLength="28.4" lengthAdjust="spacingAndGlyphs">1.34675</text>
<path d="M1496 127.0h1.8" stroke="#333" stroke-width="1"/><text x="1499.6" y="130.3" textLength="28.4" lengthAdjust="spacingAndGlyphs">1.34270</text>
<path d="M1496 158.5h1.8" stroke="#333" stroke-width="1"/><text x="1499.6" y="161.8" textLength="28.4" lengthAdjust="spacingAndGlyphs">1.33870</text>
<path d="M1496 190.0h1.8" stroke="#333" stroke-width="1"/><text x="1499.6" y="193.3" textLength="28.4" lengthAdjust="spacingAndGlyphs">1.33465</text>
<path d="M1496 221.5h1.8" stroke="#333" stroke-width="1"/><text x="1499.6" y="224.8" textLength="28.4" lengthAdjust="spacingAndGlyphs">1.33060</text>
<path d="M1496 253.0h1.8" stroke="#333" stroke-width="1"/><text x="1499.6" y="256.3" textLength="28.4" lengthAdjust="spacingAndGlyphs">1.32655</text>
<path d="M1496 284.5h1.8" stroke="#333" stroke-width="1"/><text x="1499.6" y="287.8" textLength="28.4" lengthAdjust="spacingAndGlyphs">1.32250</text>
<path d="M1496 316.0h1.8" stroke="#333" stroke-width="1"/><text x="1499.6" y="319.3" textLength="28.4" lengthAdjust="spacingAndGlyphs">1.31845</text>
<path d="M1496 347.5h1.8" stroke="#333" stroke-width="1"/><text x="1499.6" y="350.8" textLength="28.4" lengthAdjust="spacingAndGlyphs">1.31440</text>
<path d="M1496 379.0h1.8" stroke="#333" stroke-width="1"/><text x="1499.6" y="382.3" textLength="28.4" lengthAdjust="spacingAndGlyphs">1.31040</text>
<path d="M1496 410.5h1.8" stroke="#333" stroke-width="1"/><text x="1499.6" y="413.8" textLength="28.4" lengthAdjust="spacingAndGlyphs">1.30635</text>
<path d="M1496 442.0h1.8" stroke="#333" stroke-width="1"/><text x="1499.6" y="445.3" textLength="28.4" lengthAdjust="spacingAndGlyphs">1.30230</text>
<path d="M1496 473.5h1.8" stroke="#333" stroke-width="1"/><text x="1499.6" y="476.8" textLength="28.4" lengthAdjust="spacingAndGlyphs">1.29825</text>
<path d="M1496 505.0h1.8" stroke="#333" stroke-width="1"/><text x="1499.6" y="508.3" textLength="28.4" lengthAdjust="spacingAndGlyphs">1.29420</text>
<text x="1498.2" y="527.2" textLength="38" lengthAdjust="spacingAndGlyphs">0.0041529</text><path d="M1496 593.5h1.8" stroke="#333" stroke-width="1"/><text x="1498.2" y="596.8" textLength="15.8" lengthAdjust="spacingAndGlyphs">0.00</text><text x="1497.6" y="689.8" textLength="40.4" lengthAdjust="spacingAndGlyphs">-0.0054762</text>
<path d="M2.3 692v2.2" stroke="#444" stroke-width="1.1"/><text x="1.0" y="702.2" textLength="44.9" lengthAdjust="spacingAndGlyphs">30 Oct 2025</text>
<path d="M64.0 692v2.2" stroke="#444" stroke-width="1.1"/><text x="62.8" y="702.2" textLength="44.5" lengthAdjust="spacingAndGlyphs">3 Nov 00:00</text>
<path d="M125.8 692v2.2" stroke="#444" stroke-width="1.1"/><text x="124.5" y="702.2" textLength="44.5" lengthAdjust="spacingAndGlyphs">5 Nov 00:00</text>
<path d="M187.6 692v2.2" stroke="#444" stroke-width="1.1"/><text x="186.2" y="702.2" textLength="44.5" lengthAdjust="spacingAndGlyphs">7 Nov 00:00</text>
<path d="M249.3 692v2.2" stroke="#444" stroke-width="1.1"/><text x="248.0" y="702.2" textLength="48.5" lengthAdjust="spacingAndGlyphs">11 Nov 00:00</text>
<path d="M311.1 692v2.2" stroke="#444" stroke-width="1.1"/><text x="309.8" y="702.2" textLength="49.1" lengthAdjust="spacingAndGlyphs">13 Nov 00:00</text>
<path d="M372.8 692v2.2" stroke="#444" stroke-width="1.1"/><text x="371.5" y="702.2" textLength="49.1" lengthAdjust="spacingAndGlyphs">17 Nov 00:00</text>
<path d="M434.6 692v2.2" stroke="#444" stroke-width="1.1"/><text x="433.2" y="702.2" textLength="49.1" lengthAdjust="spacingAndGlyphs">19 Nov 00:00</text>
<path d="M496.3 692v2.2" stroke="#444" stroke-width="1.1"/><text x="495.0" y="702.2" textLength="49.1" lengthAdjust="spacingAndGlyphs">21 Nov 00:00</text>
<path d="M558.0 692v2.2" stroke="#444" stroke-width="1.1"/><text x="556.8" y="702.2" textLength="49.1" lengthAdjust="spacingAndGlyphs">25 Nov 00:00</text>
<path d="M619.8 692v2.2" stroke="#444" stroke-width="1.1"/><text x="618.5" y="702.2" textLength="49.1" lengthAdjust="spacingAndGlyphs">27 Nov 00:00</text>
<path d="M681.5 692v2.2" stroke="#444" stroke-width="1.1"/><text x="680.2" y="702.2" textLength="44.5" lengthAdjust="spacingAndGlyphs">1 Dec 00:00</text>
<path d="M743.3 692v2.2" stroke="#444" stroke-width="1.1"/><text x="742.0" y="702.2" textLength="44.5" lengthAdjust="spacingAndGlyphs">3 Dec 00:00</text>
<path d="M805.0 692v2.2" stroke="#444" stroke-width="1.1"/><text x="803.8" y="702.2" textLength="44.5" lengthAdjust="spacingAndGlyphs">5 Dec 00:00</text>
<path d="M866.8 692v2.2" stroke="#444" stroke-width="1.1"/><text x="865.5" y="702.2" textLength="44.5" lengthAdjust="spacingAndGlyphs">9 Dec 00:00</text>
<path d="M928.5 692v2.2" stroke="#444" stroke-width="1.1"/><text x="927.2" y="702.2" textLength="48.5" lengthAdjust="spacingAndGlyphs">11 Dec 00:00</text>
<path d="M990.3 692v2.2" stroke="#444" stroke-width="1.1"/><text x="989.0" y="702.2" textLength="49.1" lengthAdjust="spacingAndGlyphs">15 Dec 00:00</text>
<path d="M1052.0 692v2.2" stroke="#444" stroke-width="1.1"/><text x="1050.8" y="702.2" textLength="49.1" lengthAdjust="spacingAndGlyphs">17 Dec 00:00</text>
<path d="M1113.8 692v2.2" stroke="#444" stroke-width="1.1"/><text x="1112.5" y="702.2" textLength="49.1" lengthAdjust="spacingAndGlyphs">19 Dec 00:00</text>
<path d="M1175.5 692v2.2" stroke="#444" stroke-width="1.1"/><text x="1174.2" y="702.2" textLength="49.1" lengthAdjust="spacingAndGlyphs">23 Dec 00:00</text>
<path d="M3.9 6.3h5.6l-2.8 3.2z" fill="#000"/><text x="13.7" y="10.8" textLength="40.3" lengthAdjust="spacingAndGlyphs">GBPUSD,H4</text><text x="60.2" y="10.8" textLength="29.0" lengthAdjust="spacingAndGlyphs">1.34883</text><text x="92.4" y="10.8" textLength="28.7" lengthAdjust="spacingAndGlyphs">1.34896</text><text x="124.6" y="10.8" textLength="28.8" lengthAdjust="spacingAndGlyphs">1.34796</text><text x="156.3" y="10.8" textLength="28.6" lengthAdjust="spacingAndGlyphs">1.34840</text>
<text x="4.5" y="528.1" textLength="74.9" lengthAdjust="spacingAndGlyphs">MACD_color(12,26,9)</text><text x="83.0" y="528.1" textLength="42.7" lengthAdjust="spacingAndGlyphs">0.00000000</text><text x="128.9" y="528.1" textLength="42.3" lengthAdjust="spacingAndGlyphs">0.00000000</text><text x="174.7" y="528.1" textLength="42.3" lengthAdjust="spacingAndGlyphs">0.00138140</text>
</g>
<rect x="1496.1" y="77.1" width="35.9" height="9.3" fill="#000000"/><text class="tag" x="1499.6" y="85.0" textLength="28.4" lengthAdjust="spacingAndGlyphs">1.34840</text>
<rect x="1496.1" y="26.5" width="35.9" height="9.3" fill="#ff0000"/><text class="tag" x="1499.6" y="34.4" textLength="28.4" lengthAdjust="spacingAndGlyphs">1.35499</text>
<rect x="1496.1" y="47.8" width="35.9" height="9.3" fill="#ff0000"/><text class="tag" x="1499.6" y="55.6" textLength="28.4" lengthAdjust="spacingAndGlyphs">1.35227</text>
<rect x="1496.1" y="71.6" width="35.9" height="9.3" fill="#ff0000"/><text class="tag" x="1499.6" y="79.5" textLength="28.4" lengthAdjust="spacingAndGlyphs">1.34922</text>
<rect x="1496.1" y="129.7" width="35.9" height="9.3" fill="#ff0000"/><text class="tag" x="1499.6" y="137.5" textLength="28.4" lengthAdjust="spacingAndGlyphs">1.34181</text>
<rect x="1496.1" y="234.9" width="35.9" height="9.3" fill="#ff0000"/><text class="tag" x="1499.6" y="242.8" textLength="28.4" lengthAdjust="spacingAndGlyphs">1.32821</text>
<path d="M1495 348.3H1488.6V373.2H1495" fill="#fff" stroke="#444" stroke-width="1"/><path d="M1495 355L1489.3 363H1495" fill="none" stroke="#0000ff" stroke-width="1.4"/>
</svg>
</body></html>
